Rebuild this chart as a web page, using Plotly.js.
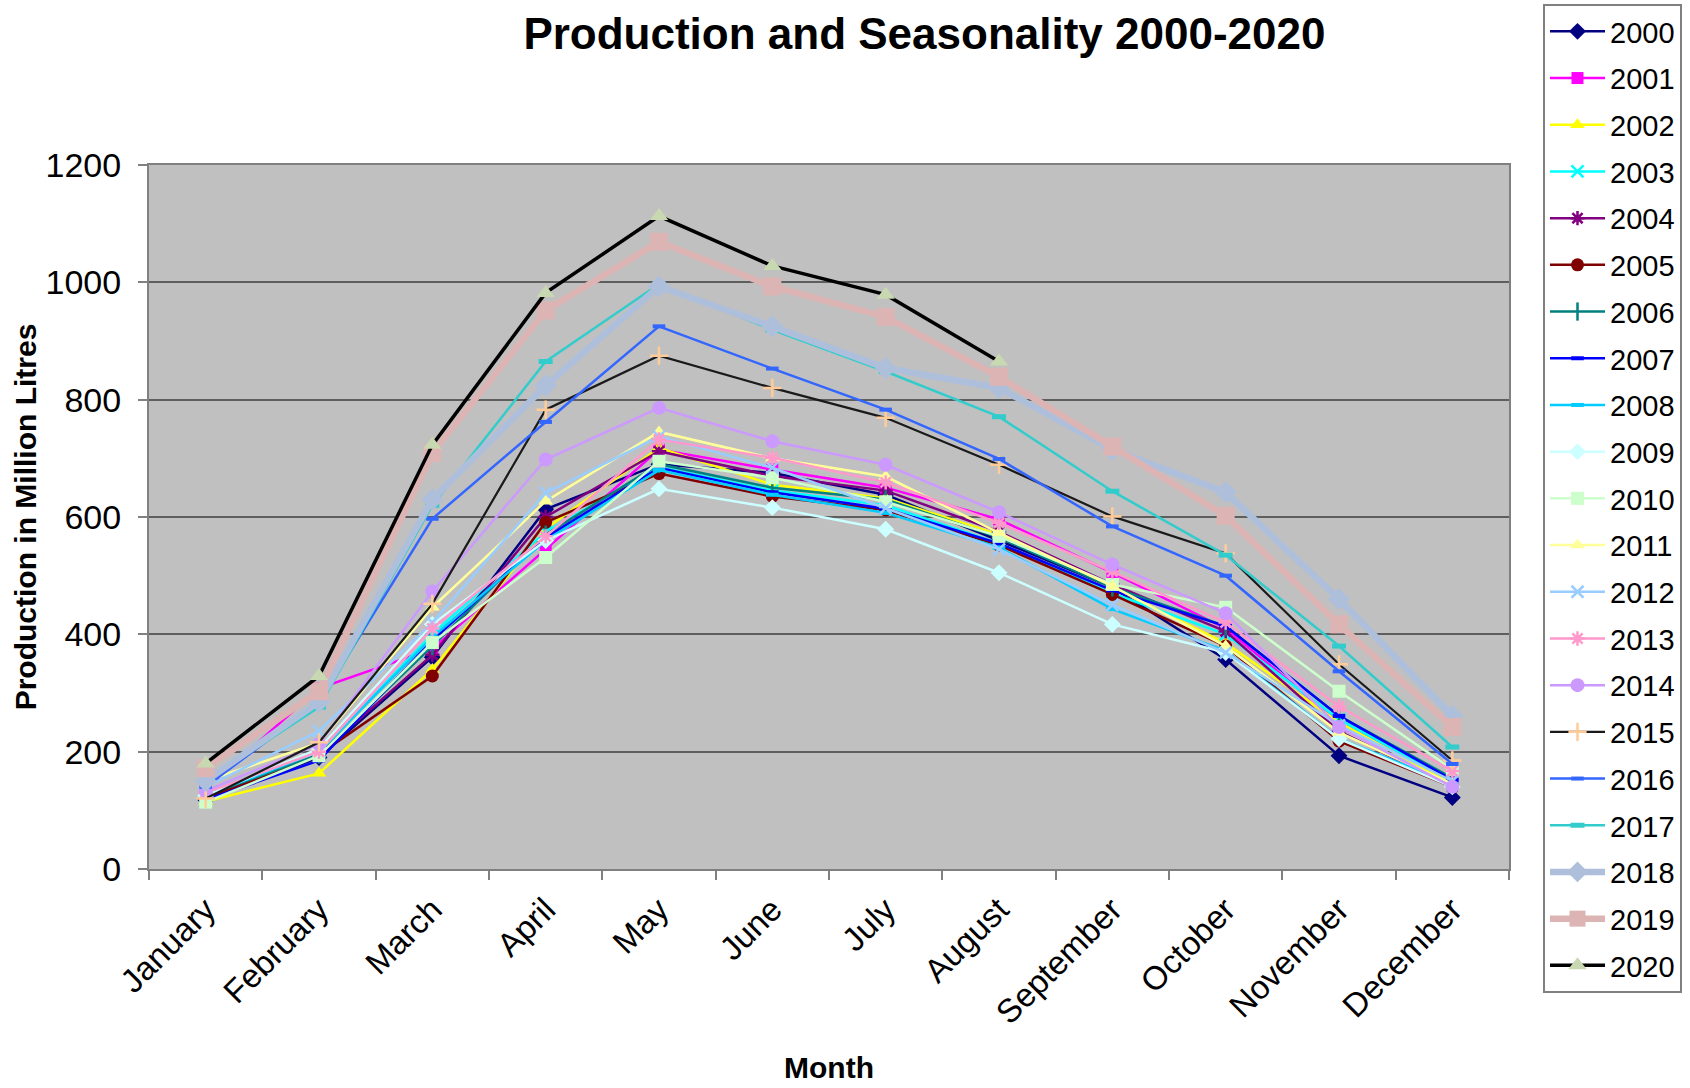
<!DOCTYPE html>
<html>
<head>
<meta charset="utf-8">
<script src="https://cdn.plot.ly/plotly-3.0.1.min.js"></script>
<style>html,body{margin:0;padding:0;background:#fff;}#chart{width:1690px;height:1088px;}</style>
</head>
<body>
<div id="chart"></div>
<script>
const months = ["January","February","March","April","May","June","July","August","September","October","November","December"];
const years = ["2000","2001","2002","2003","2004","2005","2006","2007","2008","2009","2010","2011","2012","2013","2014","2015","2016","2017","2018","2019","2020"];

const y2000 = [118, 190, 361, 613, 690, 675, 638, 560, 480, 357, 193, 122];
const y2001 = [137, 308, 375, 545, 715, 681, 650, 596, 505, 410, 250, 150];
const y2002 = [115, 163, 340, 580, 718, 655, 632, 570, 480, 385, 250, 145];
const y2003 = [130, 200, 400, 575, 685, 645, 620, 555, 470, 400, 255, 150];
const y2004 = [120, 195, 365, 600, 712, 670, 645, 575, 485, 405, 235, 140];
const y2005 = [120, 195, 329, 591, 674, 635, 612, 552, 468, 380, 218, 140];
const y2006 = [125, 195, 380, 570, 690, 650, 630, 565, 480, 414, 261, 155];
const y2007 = [118, 185, 390, 565, 684, 642, 614, 555, 475, 414, 261, 152];
const y2008 = [125, 200, 395, 560, 680, 638, 607, 548, 443, 372, 222, 145];
const y2009 = [125, 205, 417, 560, 648, 616, 579, 505, 417, 369, 222, 140];
const y2010 = [114, 193, 386, 531, 695, 667, 626, 567, 485, 446, 303, 170];
const y2011 = [150, 215, 446, 627, 745, 700, 669, 573, 482, 380, 233, 145];
const y2012 = [140, 235, 420, 641, 737, 684, 615, 545, 450, 369, 245, 150];
const y2013 = [130, 200, 410, 567, 732, 701, 659, 590, 507, 420, 277, 167];
const y2014 = [133, 213, 473, 698, 786, 729, 689, 608, 519, 436, 242, 140];
const y2015 = [120, 216, 452, 783, 875, 820, 769, 689, 601, 538, 349, 185];
const y2016 = [140, 285, 597, 762, 925, 853, 783, 699, 584, 500, 337, 179];
const y2017 = [150, 276, 620, 865, 997, 919, 848, 771, 644, 535, 380, 208];
const y2018 = [150, 285, 630, 824, 993, 925, 854, 820, 715, 642, 460, 261];
const y2019 = [172, 303, 709, 952, 1069, 993, 941, 839, 720, 602, 417, 242];
const y2020 = [180, 329, 723, 982, 1113, 1028, 979, 865, null, null, null, null];

const seriesValues = [y2000,y2001,y2002,y2003,y2004,y2005,y2006,y2007,y2008,y2009,y2010,y2011,y2012,y2013,y2014,y2015,y2016,y2017,y2018,y2019,y2020];

// style per series: [lineColor, lineWidth, symbol, markerColor, markerSize, markerLineWidth]
const styles = [
  ["#000080", 2.5, "diamond", "#000080", 13, 0],
  ["#FF00FF", 2.5, "square", "#FF00FF", 12, 0],
  ["#FFFF00", 2.5, "triangle-up", "#FFFF00", 13, 0],
  ["#00FFFF", 2.5, "x-thin-open", "#00FFFF", 12, 2.5],
  ["#800080", 2.5, "asterisk-open", "#800080", 12, 2.5],
  ["#800000", 2.5, "circle", "#800000", 13, 0],
  ["#008080", 2.5, "line-ns-open", "#008080", 13, 2.5],
  ["#0000FF", 2.5, "line-ew-open", "#0000FF", 9, 4],
  ["#00CCFF", 2.5, "line-ew-open", "#00CCFF", 9, 4],
  ["#CCFFFF", 2.5, "diamond", "#CCFFFF", 13, 0],
  ["#CCFFCC", 2.5, "square", "#CCFFCC", 13, 0],
  ["#FFFF99", 2.5, "triangle-up", "#FFFF99", 13, 0],
  ["#99CCFF", 2.5, "x-thin-open", "#99CCFF", 12, 2.5],
  ["#FF99CC", 2.5, "asterisk-open", "#FF99CC", 12, 2.5],
  ["#CC99FF", 2.5, "circle", "#CC99FF", 14, 0],
  ["#1a1a1a", 2.2, "cross-thin-open", "#FFCC99", 13, 2.5],
  ["#3366FF", 2.5, "line-ew-open", "#3366FF", 9, 4],
  ["#33CCCC", 2.5, "line-ew-open", "#33CCCC", 10, 5],
  ["#AEBFDC", 6.5, "diamond", "#AEBFDC", 17, 0],
  ["#DDB4B4", 6.5, "square", "#DDB4B4", 18, 0],
  ["#000000", 3.5, "triangle-up", "#C8D8B0", 16, 0]
];

const traces = years.map((yr, i) => {
  const s = styles[i];
  return {
    type: "scatter",
    mode: "lines+markers",
    name: yr,
    legendgroup: yr,
    x: months,
    y: seriesValues[i],
    connectgaps: false,
    line: {color: s[0], width: s[1]},
    marker: {symbol: s[2], color: s[3], size: s[4], line: {color: s[3], width: s[5]}}
  };
});

const fontFam = "Liberation Sans, Arial, sans-serif";
const layout = {
  width: 1690,
  height: 1088,
  paper_bgcolor: "#ffffff",
  plot_bgcolor: "#C0C0C0",
  margin: {l: 149, r: 181, t: 165, b: 219, autoexpand: false},
  font: {family: fontFam, color: "#000000"},
  title: {
    text: "<b>Production and Seasonality 2000-2020</b>",
    font: {family: fontFam, size: 44, color: "#000"},
    xref: "container", x: 0.547, xanchor: "center",
    yref: "container", y: 0.969, yanchor: "middle"
  },
  xaxis: {
    type: "category",
    range: [-0.5, 11.5],
    autorange: false,
    tickson: "boundaries",
    ticks: "outside", ticklen: 9, tickwidth: 2, tickcolor: "#808080",
    showline: true, linecolor: "#808080", linewidth: 2, mirror: true,
    showgrid: false,
    tickangle: -45,
    ticklabelstandoff: 6,
    tickfont: {family: fontFam, size: 33, color: "#000"},
    title: {text: "<b>Month</b>", font: {family: fontFam, size: 30, color: "#000"}, standoff: 27},
    automargin: false
  },
  yaxis: {
    range: [0, 1200], dtick: 200, tick0: 0,
    autorange: false,
    ticks: "outside", ticklen: 9, tickwidth: 2, tickcolor: "#808080",
    showline: true, linecolor: "#808080", linewidth: 2, mirror: true,
    showgrid: true, gridcolor: "#5e5e5e", gridwidth: 2,
    zeroline: false,
    ticklabelstandoff: 10,
    tickfont: {family: fontFam, size: 34, color: "#000"},
    title: {text: "<b>Production in Million Litres</b>", font: {family: fontFam, size: 30, color: "#000"}, standoff: 0},
    automargin: false
  },
  showlegend: true,
  legend: {
    x: 1.025, xanchor: "left",
    y: 1.2287, yanchor: "top",
    bgcolor: "#ffffff", bordercolor: "#808080", borderwidth: 2,
    font: {family: fontFam, size: 29, color: "#000"},
    tracegroupgap: 6,
    traceorder: "grouped",
    itemwidth: 55,
    maxheight: 1080
  }
};

Plotly.newPlot("chart", traces, layout, {displayModeBar: false, staticPlot: true});
</script>
</body>
</html>
